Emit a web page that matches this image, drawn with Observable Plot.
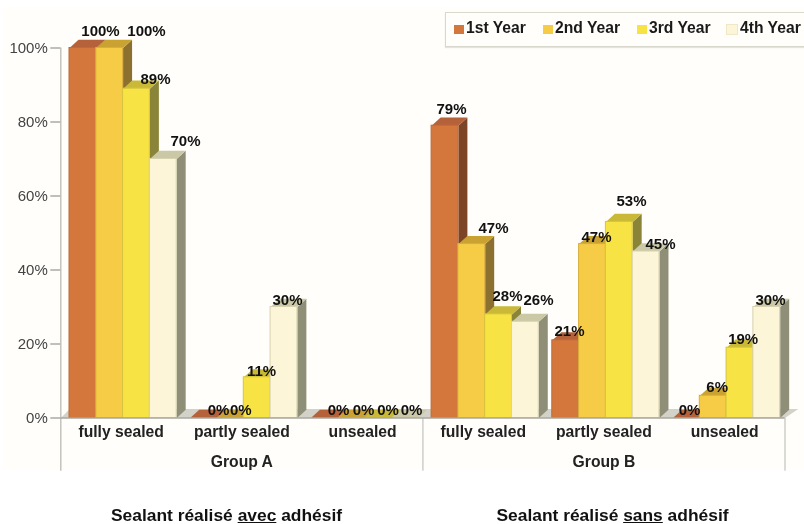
<!DOCTYPE html>
<html><head><meta charset="utf-8">
<script src="https://cdn.jsdelivr.net/npm/d3@7"></script>
<script src="https://cdn.jsdelivr.net/npm/@observablehq/plot@0.6"></script>
<style>
html,body{margin:0;padding:0;background:#fff;width:804px;height:524px;overflow:hidden;font-family:"Liberation Sans",Arial,sans-serif}
#bg{position:absolute;left:3px;top:7px;width:801px;height:463px;background:#fffefa}
#chart{position:absolute;left:0;top:0;filter:blur(0.35px)}
#chart svg{background:transparent;display:block}
#legend{position:absolute;left:445px;top:12px;width:358px;height:33px;border:1px solid #d8d8cc;border-right:none;box-shadow:0 1px 1px #e4e4dc;background:#fffefa;font:bold 15.7px "Liberation Sans",Arial,sans-serif;color:#1a1a1a;filter:blur(0.3px)}
#legend i{position:absolute;top:12px;width:10px;height:9px}
#legend span{position:absolute;top:6px;white-space:nowrap}
.cap{position:absolute;top:507px;line-height:17px;height:17px;font-size:17.4px;font-weight:bold;color:#111;transform:translateX(-50%);white-space:nowrap;filter:blur(0.3px)}
</style></head>
<body>
<div id="bg"></div><div id="chart"></div>
<div id="legend"></div>
<div class="cap" style="left:226.5px">Sealant réalisé <u>avec</u> adhésif</div>
<div class="cap" style="left:612.5px">Sealant réalisé <u>sans</u> adhésif</div>
<script>
const years = ["1st Year","2nd Year","3rd Year","4th Year"];
const categories = ["fully sealed","partly sealed","unsealed","fully sealed","partly sealed","unsealed"];
const groups = ["Group A","Group B"];
const year1 = [100,0,0,79,21,0];
const year2 = [100,0,0,47,47,6];
const year3 = [89,11,0,28,53,19];
const year4 = [70,30,0,26,45,30];
const series = [year1,year2,year3,year4];

const frontColors = ["#d4773c","#f6cb45","#f8e345","#fcf5d8"];
const topColors   = ["#b5613a","#c9a232","#c9b936","#cbc8a6"];
const sideColors  = ["#7c4528","#8c7030","#8a8438","#8f8f78"];
const edgeColors  = ["#c06a36","#d8ae3c","#d8c53c","#d8d2b0"];

// geometry in scale units
const barStart = 0.072, barWidth = 0.222, depthX = 0.0746, depthY = 2.2;

// label nudges (px) per cluster and year
const labelDx = [[17.6,36.8,19,22.2],[14.9,10.4,4.3,3.5],[14.2,12.4,10.1,6.8],[6.5,21.7,8.9,13.1],[3.8,4,12.2,14.4],[3.1,4,3.2,3.7]];
const labelDy = [[-16.5,-16.5,-9.2,-17.5],[-7.5,-7.5,-6.1,-6.5],[-7.5,-7.5,-7.5,-7.5],[-16.2,-15.6,-17.9,-21.3],[-8.8,-6.6,-20.4,-7],[-7.5,-8.6,-8.2,-6.5]];

const bars = categories.flatMap((c,i)=>series.map((s,j)=>({
  i,j,v:s[i],x1:i+barStart+j*barWidth,x2:i+barStart+(j+1)*barWidth,
  dx:labelDx[i][j],dy:labelDy[i][j]
})));

const faces = [];
bars.forEach((b,k)=>{
  [[b.x2,0],[b.x2+depthX,depthY],[b.x2+depthX,b.v+depthY],[b.x2,b.v]]
    .forEach(([x,y])=>faces.push({x,y,z:"s"+k,c:sideColors[b.j]}));
  [[b.x1,b.v],[b.x2,b.v],[b.x2+depthX,b.v+depthY],[b.x1+depthX,b.v+depthY]]
    .forEach(([x,y])=>faces.push({x,y,z:"t"+k,c:topColors[b.j]}));
});
const floor = [[0,0],[6,0],[6+0.11,depthY+0.2],[depthX,depthY+0.2]].map(([x,y])=>({x,y}));

const labelFont = {fontSize:15,fontWeight:"bold",fontFamily:"Liberation Sans, Arial, sans-serif"};
const plot = Plot.plot({
  width:804,height:480,
  marginTop:47.5,marginBottom:62.5,marginLeft:60.3,marginRight:19.5,
  x:{type:"linear",domain:[0,6],axis:null},
  y:{domain:[0,100],axis:null},
  color:{type:"identity"},
  style:{background:"transparent",fontFamily:"Liberation Sans, Arial, sans-serif"},
  marks:[
    Plot.line(floor,{x:"x",y:"y",fill:"#d2d2c8",stroke:"none",curve:"linear-closed"}),
    Plot.ruleX([0],{y1:-14.4,y2:100,stroke:"#c4c4bc",strokeWidth:1.5}),
    Plot.ruleX([3,6],{y1:-14.4,y2:0,stroke:"#cfcfc8",strokeWidth:1.5}),
    Plot.axisY({ticks:[0,20,40,60,80,100],tickFormat:d=>d+"%",tickSize:10,tickPadding:3,
      stroke:"#aaa",fill:"#444",fontSize:15,label:null,strokeWidth:1.5}),
    Plot.line(faces,{x:"x",y:"y",z:"z",fill:"c",stroke:"none",curve:"linear-closed"}),
    Plot.rect(bars,{x1:"x1",x2:"x2",y1:0,y2:"v",fill:d=>frontColors[d.j],stroke:d=>edgeColors[d.j],strokeWidth:1}),
    Plot.ruleY([0],{x1:0,x2:6,stroke:"#a8a8a0",strokeWidth:1.5}),
    Plot.text(bars,{x:d=>(d.x1+d.x2)/2,y:"v",text:d=>d.v+"%",fill:"#111",...labelFont,
      render(index,scales,values,dims,ctx,next){
        const g=next(index,scales,values,dims,ctx);
        d3.select(g).selectAll("text").attr("transform",function(_,n){
          const k=index[n],b=bars[k];
          return `translate(${values.x[k]+b.dx},${values.y[k]+b.dy})`;});
        return g;}
    }),
    Plot.text(categories,{x:(d,i)=>i+0.5,y:0,text:d=>d,dy:13.5,fill:"#222",...labelFont,fontSize:15.7}),
    Plot.text(groups,{x:(d,i)=>i*3+1.5,y:0,text:d=>d,dy:43.5,fill:"#222",...labelFont,fontSize:15.7})
  ]
});
document.getElementById("chart").append(plot);

const legendSwatchX=[8,97,191,281], legendTextX=[20,109,203,294];
const lg=document.getElementById("legend");
years.forEach((t,i)=>{
  const sw=document.createElement("i");
  sw.style.left=legendSwatchX[i]+"px";sw.style.background=frontColors[i];
  if(i==3)sw.style.outline="1px solid #eee8c8";
  const s=document.createElement("span");s.textContent=t;s.style.left=legendTextX[i]+"px";
  lg.append(sw,s);
});
</script>
</body></html>
